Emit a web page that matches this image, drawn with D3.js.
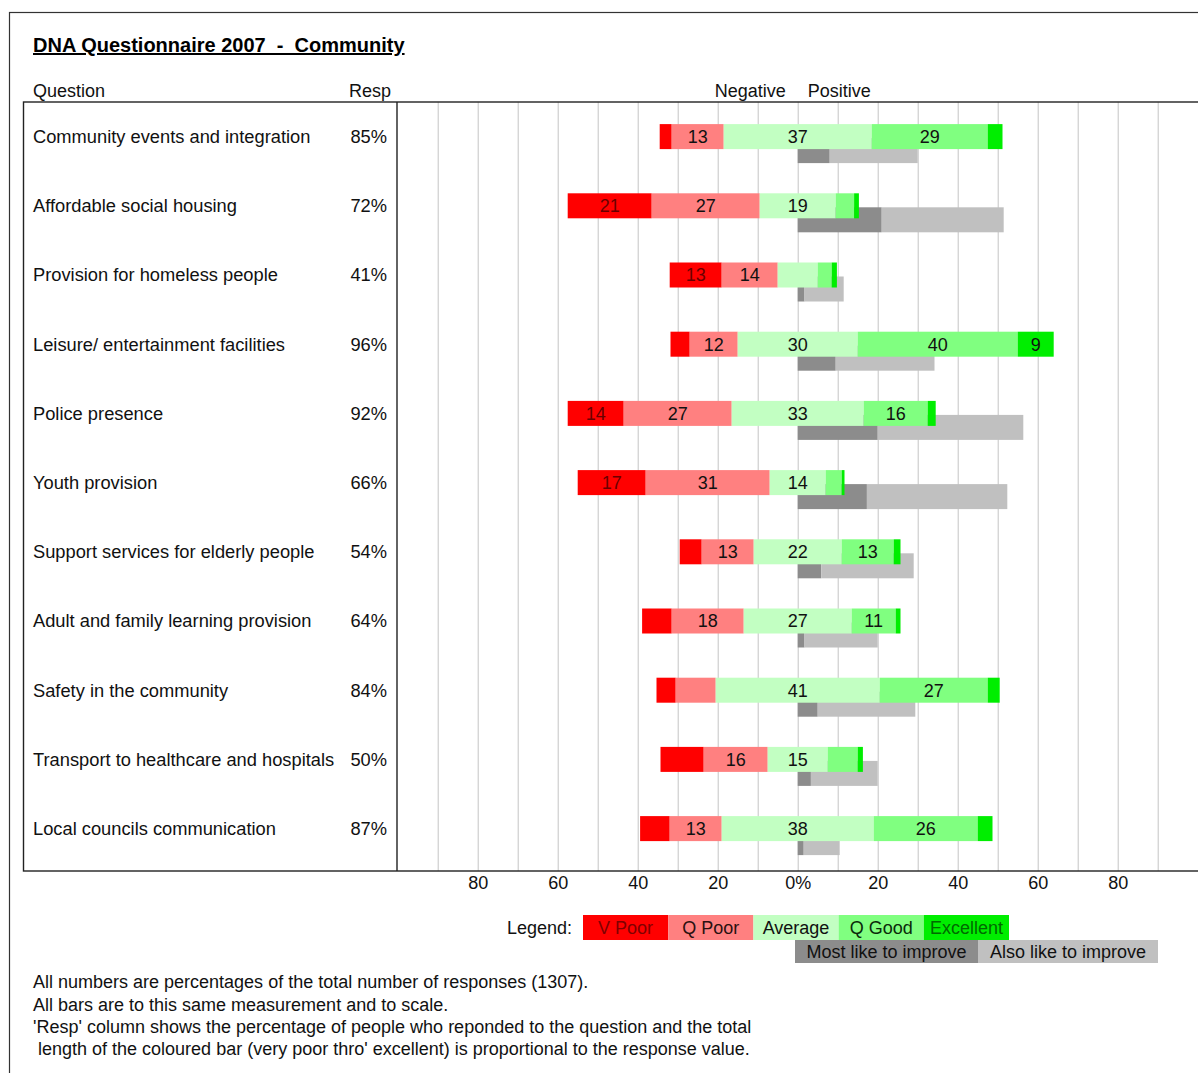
<!DOCTYPE html>
<html>
<head>
<meta charset="utf-8">
<script src="https://cdn.jsdelivr.net/npm/d3@7"></script>
<style>
  html, body { margin: 0; padding: 0; background: #fff; }
  svg { display: block; font-family: "Liberation Sans", Arial, sans-serif; }
</style>
</head>
<body>
<svg id="chart" width="1198" height="1073"></svg>
<script>
// Survey questions and share of people answering each one
const questions = [
  "Community events and integration",
  "Affordable social housing",
  "Provision for homeless people",
  "Leisure/ entertainment facilities",
  "Police presence",
  "Youth provision",
  "Support services for elderly people",
  "Adult and family learning provision",
  "Safety in the community",
  "Transport to healthcare and hospitals",
  "Local councils communication"
];
const respLabels = ["85%", "72%", "41%", "96%", "92%", "66%", "54%", "64%", "84%", "50%", "87%"];

// Ratings, % of all responses
const vPoor     = [3, 21, 13, 4.8, 14, 17, 5.5, 7.4, 4.8, 10.8, 7.4];
const qPoor     = [13, 27, 14, 12, 27, 31, 13, 18, 10, 16, 13];
const average   = [37, 19, 10, 30, 33, 14, 22, 27, 41, 15, 38];
const qGood     = [29, 4.6, 3.5, 40, 16, 4, 13, 11, 27, 7.5, 26];
const excellent = [3.7, 1.2, 1.3, 9, 2, 0.7, 1.7, 1.2, 3, 1.3, 3.7];

// Improvement priorities, % of all responses
const mostImprove = [8, 21, 1.7, 9.5, 20, 17.3, 5.9, 1.7, 5, 3.3, 1.5];
const alsoImprove = [22, 30.5, 9.8, 24.7, 36.4, 35.1, 23.1, 18.3, 24.4, 16.7, 9];

const axisTicks = [-80, -60, -40, -20, 0, 20, 40, 60, 80];
const ratingNames = ["V Poor", "Q Poor", "Average", "Q Good", "Excellent"];
const improveNames = ["Most like to improve", "Also like to improve"];
const footnotes = [
  "All numbers are percentages of the total number of responses (1307).",
  "All bars are to this same measurement and to scale.",
  "'Resp' column shows the percentage of people who reponded to the question and the total",
  " length of the coloured bar (very poor thro' excellent) is proportional to the response value."
];

const ratingColors = ["#ff0000", "#ff8080", "#c2ffc2", "#80ff80", "#00ee00"];
const ratingText   = ["#800000", "#2a1010", "#111", "#0a2a0a", "#006a00"];
const improveColors = ["#8c8c8c", "#c0c0c0"];
const minLabel = [11, 11, 11, 11, 9];

const svg = d3.select("#chart");
const font = "Liberation Sans, Arial, sans-serif";

const x = d3.scaleLinear().domain([-100, 100]).range([397.7, 1197.7]);
const y = d3.scaleBand().domain(questions).range([102, 863.2]);
const barH = 25;
const grayShift = 14;

// Outer frame and plot box
svg.append("rect").attr("x", 9.5).attr("y", 12.5).attr("width", 1220).attr("height", 1100)
  .attr("fill", "none").attr("stroke", "#333").attr("stroke-width", 1.2);

// Grid
const grid = svg.append("g").attr("transform", "translate(0,871)")
  .call(d3.axisBottom(x).tickValues(d3.range(-90, 91, 10)).tickSize(-769).tickFormat(""));
grid.select(".domain").remove();
grid.selectAll(".tick line").attr("stroke", "#c4c4c4");

svg.append("rect").attr("x", 23.5).attr("y", 102).attr("width", 1200).attr("height", 769)
  .attr("fill", "none").attr("stroke", "#222").attr("stroke-width", 1.4);
svg.append("line").attr("x1", 397).attr("x2", 397).attr("y1", 102).attr("y2", 871)
  .attr("stroke", "#222").attr("stroke-width", 1.4);

// Title and headers
svg.append("text").attr("x", 33).attr("y", 52).attr("font-size", 20).attr("font-weight", "bold")
  .attr("text-decoration", "underline").attr("fill", "#000").style("white-space", "pre")
  .text("DNA Questionnaire 2007  -  Community");
const head = svg.append("g").attr("font-size", 18).attr("fill", "#111");
head.append("text").attr("x", 33).attr("y", 97).text("Question");
head.append("text").attr("x", 391).attr("y", 97).attr("text-anchor", "end").text("Resp");
head.append("text").attr("x", x(-3)).attr("y", 97).attr("text-anchor", "end").text("Negative");
head.append("text").attr("x", x(2.5)).attr("y", 97).text("Positive");

// Row labels
const rows = svg.append("g").attr("font-size", 18.3).attr("fill", "#111");
rows.selectAll("text.q").data(questions).join("text").attr("class", "q")
  .attr("x", 33).attr("y", d => y(d) + y.bandwidth() / 2).attr("dy", "0.35em").text(d => d);
rows.selectAll("text.r").data(respLabels).join("text").attr("class", "r")
  .attr("x", 387).attr("y", (d, i) => y(questions[i]) + y.bandwidth() / 2).attr("dy", "0.35em")
  .attr("text-anchor", "end").text(d => d);

// Improvement bars (drawn underneath the rating bars)
const improveSegs = [];
questions.forEach((q, i) => {
  improveSegs.push({ q, k: 0, x0: 0, x1: mostImprove[i] });
  improveSegs.push({ q, k: 1, x0: mostImprove[i], x1: mostImprove[i] + alsoImprove[i] });
});
svg.append("g").selectAll("rect").data(improveSegs).join("rect")
  .attr("x", d => x(d.x0)).attr("width", d => x(d.x1) - x(d.x0))
  .attr("y", d => y(d.q) + y.bandwidth() / 2 - barH / 2 + grayShift).attr("height", barH)
  .attr("fill", d => improveColors[d.k]);

// Rating bars: Average centred on zero, poor to the left, good to the right
const series = [vPoor, qPoor, average, qGood, excellent];
const segs = [];
questions.forEach((q, i) => {
  const half = average[i] / 2;
  const left = [-half - qPoor[i] - vPoor[i], -half - qPoor[i], -half, half, half + qGood[i]];
  series.forEach((s, k) => segs.push({ q, k, v: s[i], x0: left[k], x1: left[k] + s[i] }));
});
const bars = svg.append("g");
bars.selectAll("rect").data(segs).join("rect")
  .attr("x", d => x(d.x0)).attr("width", d => x(d.x1) - x(d.x0))
  .attr("y", d => y(d.q) + y.bandwidth() / 2 - barH / 2).attr("height", barH)
  .attr("fill", d => ratingColors[d.k]);
bars.selectAll("text").data(segs.filter(d => d.v >= minLabel[d.k])).join("text")
  .attr("x", d => x((d.x0 + d.x1) / 2)).attr("y", d => y(d.q) + y.bandwidth() / 2)
  .attr("dy", "0.35em").attr("text-anchor", "middle").attr("font-size", 18)
  .attr("fill", d => d.k === 0 ? "#6a0000" : "#111").text(d => Math.round(d.v));

// Bottom axis labels
const ax = svg.append("g").attr("transform", "translate(0,871)")
  .call(d3.axisBottom(x).tickValues(axisTicks).tickSize(0).tickPadding(5)
    .tickFormat(d => d === 0 ? "0%" : Math.abs(d)));
ax.select(".domain").remove();
ax.selectAll("text").attr("font-size", 18).attr("font-family", font).attr("fill", "#111");

// Legend
const lg = svg.append("g").attr("font-size", 18);
lg.append("text").attr("x", 572).attr("y", 928).attr("dy", "0.35em").attr("text-anchor", "end")
  .attr("fill", "#111").text("Legend:");
const lw = 85.2;
ratingNames.forEach((n, k) => {
  lg.append("rect").attr("x", 583 + k * lw).attr("y", 915).attr("width", lw).attr("height", 25)
    .attr("fill", ratingColors[k]);
  lg.append("text").attr("x", 583 + k * lw + lw / 2).attr("y", 928).attr("dy", "0.35em")
    .attr("text-anchor", "middle").attr("fill", ratingText[k]).text(n);
});
const gx = [795, 978, 1158];
improveNames.forEach((n, k) => {
  lg.append("rect").attr("x", gx[k]).attr("y", 940).attr("width", gx[k + 1] - gx[k]).attr("height", 23)
    .attr("fill", improveColors[k]);
  lg.append("text").attr("x", (gx[k] + gx[k + 1]) / 2).attr("y", 951.5).attr("dy", "0.35em")
    .attr("text-anchor", "middle").attr("fill", "#111").text(n);
});

// Notes
svg.append("g").attr("font-size", 18).attr("fill", "#111")
  .selectAll("text").data(footnotes).join("text")
  .attr("x", 33).attr("y", (d, i) => 982 + i * 22.3).attr("dy", "0.35em")
  .style("white-space", "pre").text(d => d);
</script>
</body>
</html>
